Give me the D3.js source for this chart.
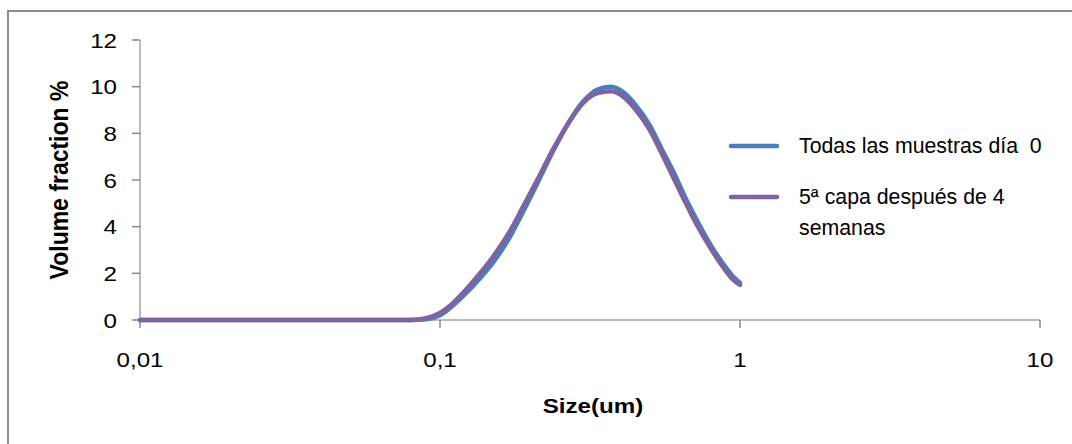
<!DOCTYPE html>
<html>
<head>
<meta charset="utf-8">
<script src="https://cdn.jsdelivr.net/npm/d3@7"></script>
<style>
	html, body { margin: 0; padding: 0; background: #fff; }
	svg { display: block; font-family: "Liberation Sans", Arial, sans-serif; }
	text { white-space: pre; }
</style>
</head>
<body>
<div id="chart"></div>
<script>
// particle size (um) and volume fraction (%)
const sizes = [0.01, 0.02, 0.04, 0.06, 0.08, 0.09, 0.1, 0.11, 0.12, 0.135, 0.15, 0.17, 0.19, 0.21, 0.24, 0.27,
	0.3, 0.335, 0.37, 0.41, 0.45, 0.5, 0.55, 0.6, 0.66, 0.72, 0.8, 0.88, 0.95, 1.0];
const day0 = [0, 0, 0, 0, 0, 0.03, 0.2, 0.6, 1.05, 1.75, 2.45, 3.5, 4.68, 5.8, 7.32, 8.52,
	9.36, 9.88, 10.0, 9.75, 9.2, 8.35, 7.3, 6.35, 5.2, 4.25, 3.2, 2.4, 1.85, 1.6];
const week4 = [0, 0, 0, 0, 0, 0.08, 0.3, 0.7, 1.2, 1.95, 2.7, 3.75, 4.9, 5.95, 7.4, 8.5,
	9.3, 9.72, 9.8, 9.55, 9.0, 8.15, 7.1, 6.1, 5.0, 4.05, 3.05, 2.25, 1.72, 1.5];
const seriesNames = ["Todas las muestras día  0", "5ª capa después de 4", "semanas"];
const xTicks = [0.01, 0.1, 1, 10];
const xTickLabels = ["0,01", "0,1", "1", "10"];
const yTicks = [0, 2, 4, 6, 8, 10, 12];

const width = 1072, height = 444;
const sx = 1.15; // picture is stretched horizontally

const svg = d3.select("#chart").append("svg")
	.attr("width", width)
	.attr("height", height);

// outer frame, cut by the picture edge
svg.append("rect")
	.attr("x", 8).attr("y", 11)
	.attr("width", width + 20).attr("height", height + 20)
	.attr("fill", "none")
	.attr("stroke", "#8c8c8c")
	.attr("stroke-width", 2);

const x = d3.scaleLog().domain([0.01, 10]).range([140, 1040]);
const y = d3.scaleLinear().domain([0, 12]).range([320, 40]);

const axisColor = "#a6a6a6";
const tickColor = "#8a8a8a";

// y axis
svg.append("line")
	.attr("x1", x(0.01)).attr("x2", x(0.01))
	.attr("y1", y(12)).attr("y2", y(0))
	.attr("stroke", axisColor).attr("stroke-width", 1.5);
svg.append("g").selectAll("line").data(yTicks).enter().append("line")
	.attr("x1", x(0.01) - 8).attr("x2", x(0.01))
	.attr("y1", (d) => y(d)).attr("y2", (d) => y(d))
	.attr("stroke", tickColor).attr("stroke-width", 1.5);
svg.append("g").selectAll("text").data(yTicks).enter().append("text")
	.attr("transform", (d) => "translate(117," + (y(d) + 7.5) + ") scale(" + sx + ",1)")
	.attr("text-anchor", "end")
	.attr("font-size", 21)
	.attr("fill", "#000")
	.text((d) => d);

// x axis
svg.append("line")
	.attr("x1", x(0.01)).attr("x2", x(10))
	.attr("y1", y(0)).attr("y2", y(0))
	.attr("stroke", axisColor).attr("stroke-width", 1.5);
svg.append("g").selectAll("line").data(xTicks).enter().append("line")
	.attr("x1", (d) => x(d)).attr("x2", (d) => x(d))
	.attr("y1", y(0)).attr("y2", y(0) + 8)
	.attr("stroke", tickColor).attr("stroke-width", 1.5);
svg.append("g").selectAll("text").data(xTicks).enter().append("text")
	.attr("transform", (d) => "translate(" + x(d) + ",367) scale(" + sx + ",1)")
	.attr("text-anchor", "middle")
	.attr("font-size", 21)
	.attr("fill", "#000")
	.text((d, i) => xTickLabels[i]);

// axis titles
svg.append("text")
	.attr("transform", "translate(593,413) scale(" + sx + ",1)")
	.attr("text-anchor", "middle")
	.attr("font-size", 21)
	.attr("font-weight", "bold")
	.text("Size(um)");
svg.append("text")
	.attr("transform", "translate(68,180) scale(" + sx + ",1) rotate(-90)")
	.attr("text-anchor", "middle")
	.attr("font-size", 23)
	.attr("font-weight", "bold")
	.text("Volume fraction %");

// curves
const line = d3.line()
	.x((d) => x(d[0]))
	.y((d) => y(d[1]))
	.curve(d3.curveMonotoneX);

const series = [
	{ values: day0, color: "#4a7ebb" },
	{ values: week4, color: "#7f63a1" },
];

svg.append("g").selectAll("path").data(series).enter().append("path")
	.attr("d", (s) => line(sizes.map((v, i) => [v, s.values[i]])))
	.attr("fill", "none")
	.attr("stroke", (s) => s.color)
	.attr("stroke-width", 4.5)
	.attr("stroke-linecap", "round")
	.attr("stroke-linejoin", "round");

// legend
const legend = svg.append("g");
legend.selectAll("line").data(series).enter().append("line")
	.attr("x1", 731).attr("x2", 777)
	.attr("y1", (d, i) => 146 + i * 51).attr("y2", (d, i) => 146 + i * 51)
	.attr("stroke", (d) => d.color)
	.attr("stroke-width", 4.5)
	.attr("stroke-linecap", "round");
legend.selectAll("text").data(seriesNames).enter().append("text")
	.attr("x", 799)
	.attr("y", (d, i) => [153, 204, 235][i])
	.attr("font-size", 21.3)
	.attr("fill", "#000")
	.text((d) => d);
</script>
</body>
</html>
